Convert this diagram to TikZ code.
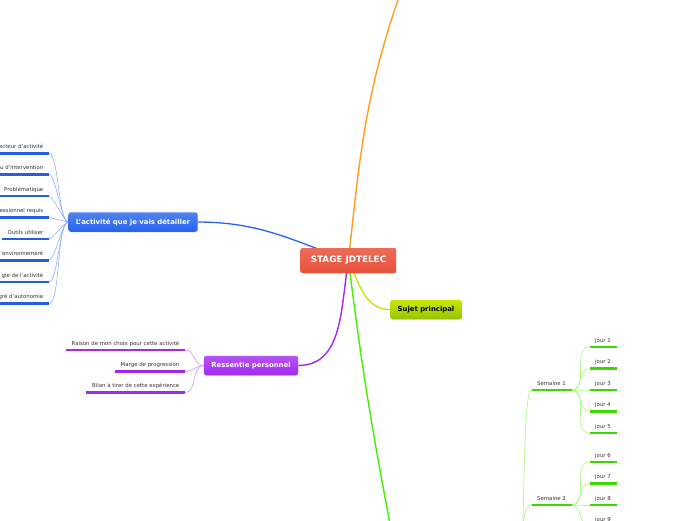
\documentclass[tikz,border=0pt]{standalone}
\usepackage{fontspec}
\setmainfont{DejaVu Sans}
\usetikzlibrary{backgrounds,shadows}
\definecolor{stagered}{HTML}{E8523B}
\definecolor{actblue}{HTML}{2563F0}
\definecolor{respurple}{HTML}{A22AF0}
\definecolor{sujetgreen}{HTML}{A8D800}
\definecolor{orangeline}{HTML}{FF9E1A}
\definecolor{greenline}{HTML}{44F000}
\begin{document}
\begin{tikzpicture}[x=1pt, y=1pt,
  topic/.style={rounded corners=2.5pt, text=white, inner xsep=7.5pt, minimum height=19.5pt,
                font=\fontsize{6.9}{8}\selectfont\bfseries,
                drop shadow={opacity=0.2, shadow xshift=0.6pt, shadow yshift=-0.8pt}},
  leaf/.style={font=\fontsize{5.4}{6}\selectfont, text=black!80, inner xsep=5.5pt,
               inner ysep=3.5pt, text height=4pt, text depth=1pt},
  bline/.style={line width=2.2pt, color=actblue!95!black},
  pline/.style={line width=2.2pt, color=respurple},
  gline/.style={line width=2.2pt, color=greenline!90!black},
  bsub/.style={actblue!50, line width=0.6pt},
  psub/.style={respurple!50, line width=0.6pt},
  gsub/.style={greenline!45, line width=0.7pt}]
  \useasboundingbox (0,0) rectangle (696,-520);
  \clip (0,0) rectangle (696,-520);
  % centre
  \node[topic, top color=stagered!85!white, bottom color=stagered, minimum height=25pt,
        inner xsep=10.5pt, font=\fontsize{8.8}{10}\selectfont\bfseries] (stage) at (348.5,-260.5) {STAGE JDTELEC};
  % main topics
  \node[topic, top color=actblue!80!white, bottom color=actblue] (act) at (133,-222) {L'activité que je vais détailler};
  \node[topic, top color=respurple!80!white, bottom color=respurple] (res) at (251,-365.5) {Ressentie personnel};
  \node[topic, top color=sujetgreen!60!yellow, bottom color=sujetgreen!90!black, text=black] (sujet) at (426,-309.5) {Sujet principal};
  \coordinate (haut) at (405,20);
  \coordinate (bas) at (397,-560);
  \coordinate (plan) at (520,-620);
  % activity leaves
  \node[leaf, anchor=south east] (b1) at (49,-153.5) {ecteur d'activité};
  \node[leaf, anchor=south east] (b2) at (49,-174.5) {u d'intervention};
  \node[leaf, anchor=south east] (b3) at (49,-196) {Problématique};
  \node[leaf, anchor=south east] (b4) at (49,-217.5) {essionnel requis};
  \node[leaf, anchor=south east] (b5) at (49,-239) {Outils utiliser};
  \node[leaf, anchor=south east] (b6) at (49,-260.5) {'environnement};
  \node[leaf, anchor=south east] (b7) at (49,-282) {gie de l'activité};
  \node[leaf, anchor=south east] (b8) at (49,-303.5) {gré d'autonomie};
  % feeling leaves
  \node[leaf, anchor=south east] (p1) at (185,-350) {Raison de mon choix pour cette activité};
  \node[leaf, anchor=south east] (p2) at (185,-371.5) {Marge de progression};
  \node[leaf, anchor=south east] (p3) at (185,-392.5) {Bilan à tirer de cette expérience};
  % weeks and days
  \node[leaf, anchor=south west] (s1) at (531.5,-390) {Semaine 1};
  \node[leaf, anchor=south west] (s2) at (531.5,-505) {Semaine 2};
  \node[leaf, anchor=south west] (j1) at (589.5,-347) {jour 1};
  \node[leaf, anchor=south west] (j2) at (589.5,-368.5) {jour 2};
  \node[leaf, anchor=south west] (j3) at (589.5,-390) {jour 3};
  \node[leaf, anchor=south west] (j4) at (589.5,-411.5) {jour 4};
  \node[leaf, anchor=south west] (j5) at (589.5,-433) {jour 5};
  \node[leaf, anchor=south west] (j6) at (589.5,-462) {jour 6};
  \node[leaf, anchor=south west] (j7) at (589.5,-483.5) {jour 7};
  \node[leaf, anchor=south west] (j8) at (589.5,-505) {jour 8};
  \node[leaf, anchor=south west] (j9) at (589.5,-526.5) {jour 9};
  % underlines
  \foreach \n in {b1,b2,b3,b4,b5,b6,b7,b8} \draw[bline] (\n.south west) -- (\n.south east);
  \foreach \n in {p1,p2,p3} \draw[pline] (\n.south west) -- (\n.south east);
  \foreach \n in {s1,s2,j1,j2,j3,j4,j5,j6,j7,j8,j9} \draw[gline] (\n.south west) -- (\n.south east);
  \begin{scope}[on background layer]
    % main branches
    \draw[orangeline, line width=1.4pt] (stage.center) to[out=84, in=-110] (haut);
    \draw[actblue, line width=1.3pt] (act.east) to[out=0, in=160] (stage.center);
    \draw[respurple, line width=1.4pt] (stage.center) to[out=-100, in=0] (res.east);
    \draw[sujetgreen!70!yellow, line width=1.3pt] (stage.center) to[out=-65, in=180] (sujet.west);
    \draw[greenline, line width=1.4pt] (stage.center) to[out=-83, in=101] (bas);
    % sub branches
    \foreach \n in {b1,b2,b3,b4,b5,b6,b7,b8}
      \draw[bsub] (act.west) to[out=180, in=0, looseness=0.35] (\n.south east);
    \foreach \n in {p1,p2,p3}
      \draw[psub] (res.west) to[out=180, in=0] (\n.south east);
    \draw[gsub] (plan) to[out=87, in=180, in looseness=0.1] (s1.south west);
    \draw[gsub] (plan) to[out=87, in=180, in looseness=0.3] (s2.south west);
    \foreach \n in {j1,j2,j3,j4,j5}
      \draw[gsub] (s1.south east) to[out=0, in=180] (\n.south west);
    \foreach \n in {j6,j7,j8,j9}
      \draw[gsub] (s2.south east) to[out=0, in=180] (\n.south west);
  \end{scope}
\end{tikzpicture}
\end{document}
